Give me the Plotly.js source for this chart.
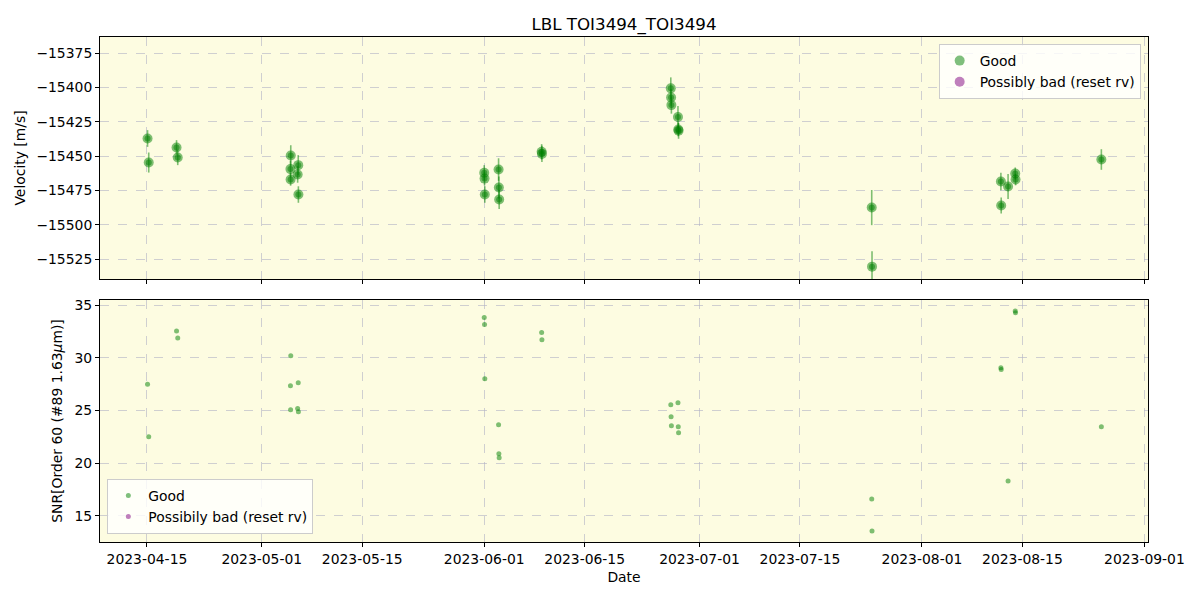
<!DOCTYPE html>
<html>
<head>
<meta charset="utf-8">
<script src="https://cdn.plot.ly/plotly-3.0.1.min.js"></script>
<style>
  html, body { margin: 0; padding: 0; background: #ffffff; }
  #chart { width: 1200px; height: 600px; }
</style>
</head>
<body>
<div id="chart"></div>
<script>
// ---- data ----
const dates = [
  '2023-04-15 02:00', '2023-04-15 06:00',
  '2023-04-19 03:00', '2023-04-19 07:00',
  '2023-05-05 01:00', '2023-05-05 00:00', '2023-05-05 00:30',
  '2023-05-06 02:00', '2023-05-06 00:00', '2023-05-06 02:30',
  '2023-06-01 00:00', '2023-06-01 01:00', '2023-06-01 02:00',
  '2023-06-03 00:00', '2023-06-03 01:00', '2023-06-03 02:00',
  '2023-06-09 00:00', '2023-06-09 01:00',
  '2023-06-27 00:00', '2023-06-27 01:00', '2023-06-27 02:00',
  '2023-06-28 00:00', '2023-06-28 01:00', '2023-06-28 02:00',
  '2023-07-25 00:00', '2023-07-25 01:00',
  '2023-08-12 00:00', '2023-08-12 01:00',
  '2023-08-13 00:00',
  '2023-08-14 00:00', '2023-08-14 01:00',
  '2023-08-26 00:00'
];
const velocity = [
  -15437.2, -15454.7,
  -15443.7, -15451.0,
  -15449.6, -15459.5, -15467.0,
  -15456.6, -15463.4, -15478.0,
  -15462.2, -15466.4, -15478.0,
  -15459.8, -15472.9, -15481.6,
  -15446.9, -15448.4,
  -15400.7, -15407.3, -15412.9,
  -15421.6, -15430.6, -15431.6,
  -15487.5, -15530.5,
  -15468.5, -15486.0,
  -15472.2,
  -15462.7, -15467.1,
  -15452.5
];
const velocityErr = [
  6.1, 7.3,
  5.3, 5.6,
  7.5, 6.0, 4.6,
  7.3, 6.0, 6.0,
  5.6, 5.0, 6.0,
  8.2, 8.0, 6.9,
  5.6, 6.0,
  8.0, 6.0, 6.2,
  8.0, 5.0, 5.8,
  12.8, 11.2,
  6.3, 5.8,
  9.1,
  4.4, 4.2,
  7.5
];
const snr = [
  27.5, 22.5,
  32.55, 31.9,
  30.2, 27.35, 25.07,
  27.64, 25.19, 24.88,
  33.83, 33.16, 28.02,
  23.64, 20.88, 20.5,
  32.4, 31.73,
  25.54, 24.4, 23.54,
  25.73, 23.45, 22.88,
  16.59, 13.54,
  29.07, 28.9,
  18.3,
  34.46, 34.3,
  23.45
];
// no "possibly bad" points in this dataset
const badDates = [null];
const badVelocity = [null];
const badSnr = [null];

const tickDates = ['2023-04-15', '2023-05-01', '2023-05-15', '2023-06-01', '2023-06-15',
                   '2023-07-01', '2023-07-15', '2023-08-01', '2023-08-15', '2023-09-01'];

const labelTitle = 'LBL TOI3494_TOI3494';
const labelGood = 'Good';
const labelBadTop = 'Possibly bad (reset rv)';
const labelBadBottom = 'Possibily bad (reset rv)';

// ---- styling ----
const green = 'rgba(0,128,0,0.5)';
const purple = 'rgba(128,0,128,0.5)';
const font = 'DejaVu Sans, Liberation Sans, sans-serif';
const fs = 13.9;

const traces = [
  {
    x: dates, y: velocity, type: 'scatter', mode: 'markers', name: labelGood,
    xaxis: 'x', yaxis: 'y', legend: 'legend',
    marker: { color: green, size: 10, line: { width: 0 } },
    error_y: { type: 'data', array: velocityErr, visible: true, color: green, thickness: 1.6, width: 0 }
  },
  {
    x: dates, y: velocity, type: 'scatter', mode: 'markers', name: labelGood,
    xaxis: 'x', yaxis: 'y', showlegend: false, hoverinfo: 'skip',
    marker: { color: green, size: 6, line: { width: 0 } }
  },
  {
    x: badDates, y: badVelocity, type: 'scatter', mode: 'markers', name: labelBadTop,
    xaxis: 'x', yaxis: 'y', legend: 'legend',
    marker: { color: purple, size: 10 }
  },
  {
    x: dates, y: snr, type: 'scatter', mode: 'markers', name: labelGood,
    xaxis: 'x2', yaxis: 'y2', legend: 'legend2',
    marker: { color: green, size: 5, line: { width: 0 } }
  },
  {
    x: badDates, y: badSnr, type: 'scatter', mode: 'markers', name: labelBadBottom,
    xaxis: 'x2', yaxis: 'y2', legend: 'legend2',
    marker: { color: purple, size: 5 }
  }
];

const gridStyle = { showgrid: true, gridcolor: 'rgba(176,176,196,0.6)', griddash: 'dash', gridwidth: 1 };
const axisCommon = Object.assign({
  showline: true, linecolor: '#000', linewidth: 1, mirror: true,
  ticks: 'outside', ticklen: 4, tickcolor: '#000', zeroline: false,
  tickfont: { family: font, size: fs, color: '#000' }
}, gridStyle);

const xRange = ['2023-04-08 11:00', '2023-09-01 12:00'];

const layout = {
  width: 1200, height: 600,
  paper_bgcolor: '#ffffff', plot_bgcolor: '#fdfce1',
  margin: { l: 100, r: 52, t: 37, b: 58 },
  font: { family: font, size: fs, color: '#000' },
  title: { text: labelTitle, x: 0.52, xanchor: 'center', y: 0.96, yanchor: 'middle',
           font: { family: font, size: 16.7, color: '#000' } },
  showlegend: true,
  xaxis: Object.assign({}, axisCommon, {
    type: 'date', range: xRange, anchor: 'y', domain: [0, 1],
    tickvals: tickDates, showticklabels: false, matches: 'x2'
  }),
  yaxis: Object.assign({}, axisCommon, {
    domain: [0.5208, 1], anchor: 'x', range: [-15539.5, -15363.3],
    tickvals: [-15525, -15500, -15475, -15450, -15425, -15400, -15375],
    ticktext: ['\u221215525', '\u221215500', '\u221215475', '\u221215450', '\u221215425', '\u221215400', '\u221215375'],
    title: { text: 'Velocity [m/s]', font: { family: font, size: fs, color: '#000' }, standoff: 7 }
  }),
  xaxis2: Object.assign({}, axisCommon, {
    type: 'date', range: xRange, anchor: 'y2', domain: [0, 1],
    tickvals: tickDates, tickformat: '%Y-%m-%d',
    title: { text: 'Date', font: { family: font, size: fs, color: '#000' }, standoff: 6 }
  }),
  yaxis2: Object.assign({}, axisCommon, {
    domain: [0, 0.4792], anchor: 'x2', range: [12.5, 35.5],
    tickvals: [15, 20, 25, 30, 35],
    title: { text: 'SNR[Order 60 (#89 1.63<i>\u03bc</i>m)]', font: { family: font, size: fs, color: '#000' }, standoff: 8 }
  }),
  legend: {
    x: 0.993, xanchor: 'right', y: 0.986, yanchor: 'top',
    bgcolor: 'rgba(255,255,255,0.8)', bordercolor: '#cccccc', borderwidth: 1,
    font: { family: font, size: fs, color: '#000' }, itemsizing: 'trace', tracegroupgap: 0
  },
  legend2: {
    x: 0.007, xanchor: 'left', y: 0.016, yanchor: 'bottom',
    bgcolor: 'rgba(255,255,255,0.8)', bordercolor: '#cccccc', borderwidth: 1,
    font: { family: font, size: fs, color: '#000' }, itemsizing: 'trace', tracegroupgap: 0
  }
};

Plotly.newPlot('chart', traces, layout, { displayModeBar: false, staticPlot: true });
</script>
</body>
</html>
